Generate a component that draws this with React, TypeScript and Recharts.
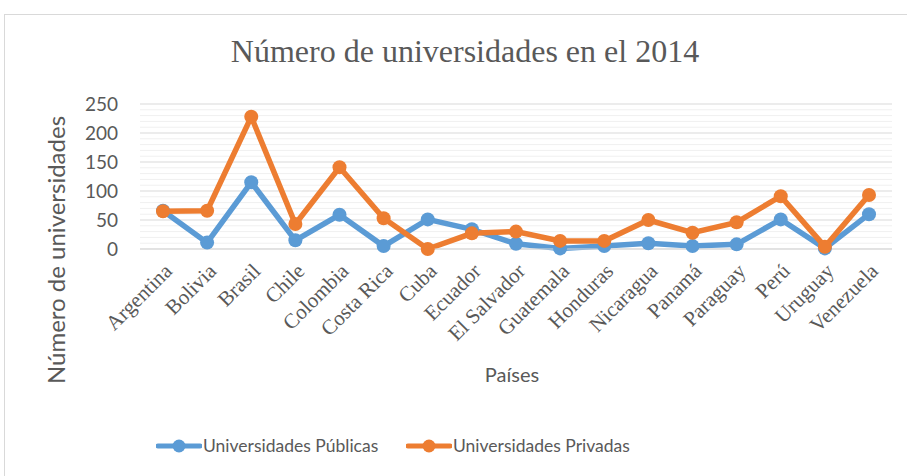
import React from "react";
import { LineChart, Line, XAxis, YAxis, CartesianGrid, ReferenceLine } from "recharts";

const countries = ["Argentina", "Bolivia", "Brasil", "Chile", "Colombia", "Costa Rica", "Cuba", "Ecuador", "El Salvador", "Guatemala", "Honduras", "Nicaragua", "Panamá", "Paraguay", "Perú", "Uruguay", "Venezuela"];
const publicas = [66, 11, 115, 15, 59, 5, 51, 34, 9, 1, 5, 10, 5, 8, 51, 1, 60];
const privadas = [65, 66, 228, 43, 141, 53, 0, 27, 30, 14, 14, 50, 28, 46, 91, 4, 93];
const yTicks = [0, 50, 100, 150, 200, 250];
const minorValues = [10, 20, 30, 40, 60, 70, 80, 90, 110, 120, 130, 140, 160, 170, 180, 190, 210, 220, 230, 240];

const data = countries.map((c, i) => ({ country: c, publicas: publicas[i], privadas: privadas[i] }));

const BLUE = "#5B9BD5";
const ORANGE = "#ED7D31";
const TEXT = "#595959";
const SANS = "Lato, 'Open Sans', sans-serif";
const SERIF = "'Times New Roman', 'Liberation Serif', serif";

const XTick = (props: any) => {
  const { x, y, payload } = props;
  return (
    <g transform={`translate(${x + 4},${y + 9})`}>
      <text textAnchor="end" transform="rotate(-45)" fontFamily={SERIF} fontSize={21} fill={TEXT} dy={9}>
        {payload.value}
      </text>
    </g>
  );
};

const LegendItem = ({ color, label, left }: { color: string; label: string; left: number }) => (
  <div style={{ position: "absolute", left, top: 435, display: "flex", alignItems: "center" }}>
    <svg width={46} height={16}>
      <line x1={2} y1={8} x2={44} y2={8} stroke={color} strokeWidth={5} strokeLinecap="round" />
      <circle cx={23} cy={8} r={6.5} fill={color} />
    </svg>
    <span style={{ fontFamily: SANS, fontSize: 17.5, color: TEXT, marginLeft: 1 }}>{label}</span>
  </div>
);

export default function App() {
  return (
    <div style={{ position: "fixed", left: 0, top: 0, width: 907, height: 476, background: "#fff", overflow: "hidden" }}>
      <div style={{ position: "absolute", left: 4, top: 14, width: 1000, height: 1000, borderLeft: "1px solid #d9d9d9", borderTop: "1px solid #d9d9d9" }} />
      <LineChart width={907} height={476} data={data} margin={{ top: 104, right: 15, left: 80, bottom: 127 }}>
        <CartesianGrid vertical={false} stroke="#d9d9d9" strokeWidth={1} />
        {minorValues.map((v) => (
          <ReferenceLine key={v} y={v} stroke="#f0f0f0" strokeWidth={1} ifOverflow="extendDomain" />
        ))}
        <XAxis dataKey="country" interval={0} height={100} padding={{ left: 23, right: 23 }} tick={<XTick />} tickLine={false} axisLine={{ stroke: "#d9d9d9" }} />
        <YAxis width={60} domain={[0, 250]} ticks={yTicks} interval={0} axisLine={false} tickLine={false} tickSize={0} tickMargin={22}
          tick={{ fontFamily: SANS, fontSize: 19, fill: TEXT }} />
        <Line type="linear" dataKey="publicas" stroke={BLUE} strokeWidth={5.5} dot={{ r: 7, fill: BLUE, stroke: BLUE, strokeWidth: 0 }} isAnimationActive={false} />
        <Line type="linear" dataKey="privadas" stroke={ORANGE} strokeWidth={5.5} dot={{ r: 7, fill: ORANGE, stroke: ORANGE, strokeWidth: 0 }} isAnimationActive={false} />
      </LineChart>
      <div style={{ position: "absolute", left: 0, width: 930, top: 33, textAlign: "center", fontFamily: SERIF, fontSize: 32, color: TEXT, whiteSpace: "nowrap" }}>
        Número de universidades en el 2014
      </div>
      <div style={{ position: "absolute", left: 412, width: 200, top: 362, textAlign: "center", fontFamily: SANS, fontSize: 20, color: TEXT }}>
        Países
      </div>
      <div style={{ position: "absolute", left: 55, top: 250, width: 0, height: 0 }}>
        <div style={{ position: "absolute", transform: "translate(-50%, -50%) rotate(-90deg)", fontFamily: SANS, fontSize: 24, color: TEXT, whiteSpace: "nowrap" }}>
          Número de universidades
        </div>
      </div>
      <LegendItem color={BLUE} label="Universidades Públicas" left={156} />
      <LegendItem color={ORANGE} label="Universidades Privadas" left={406} />
    </div>
  );
}
